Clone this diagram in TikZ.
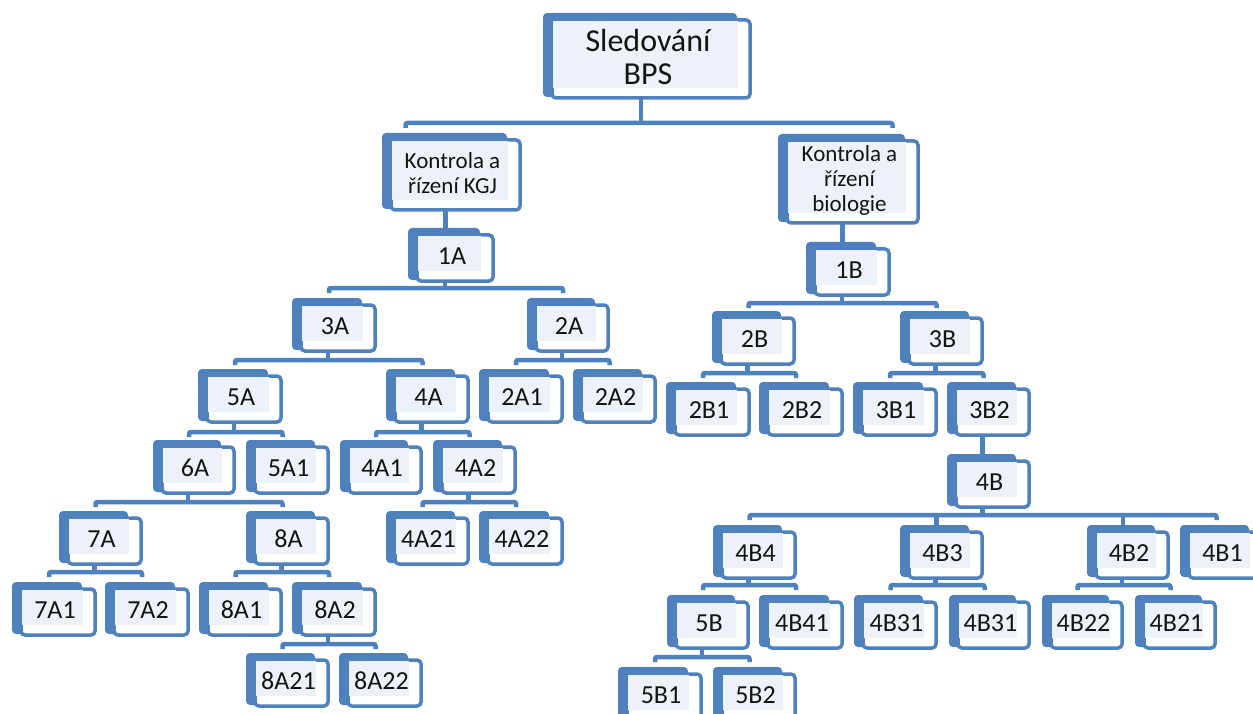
\documentclass[tikz,border=0pt]{standalone}
\usepackage{fontspec}
\setmainfont{Carlito}
\usetikzlibrary{calc}
\definecolor{bblue}{HTML}{4F81BD}
\definecolor{bfill}{HTML}{EDF2F9}
\tikzset{
 backbox/.style={fill=bblue, rounded corners=4pt},
 frontbox/.style={draw=bblue, fill=white, line width=3.5pt, rounded corners=4pt, inner sep=0pt, outer sep=0pt},
 innerbox/.style={fill=bfill},
 lbl/.style={font=\fontsize{26}{28}\selectfont, align=center, inner sep=0pt, text=black!92},
 conn/.style={draw=bblue, line width=4.5pt}
}
% \bx[label options]{name}{L}{T}{R}{B}{text}
\newcommand\bx[7][]{%
 \path[backbox] (#3,#4) rectangle (#5-15,#6-3);
 \node[frontbox, minimum width={#5-#3-11}, minimum height={#6-#4-9}] (#2) at ({(#3+#5+7)/2},{(#4+#6+5)/2}) {};
 \path[innerbox] (#3+10,#4+8) rectangle (#5-14,#6-12);
 \node[lbl,#1] (#2t) at ({(#3+#5+1)/2},{(#4+#6+1)/2}) {#7};
}
% \tree{parent}{bar y}{first child}{last child}
\newcommand\tree[4]{%
 \coordinate (barY) at (0,#2);
 \coordinate (pc) at ($(#1.south)+(-10,0)$);
 \coordinate (lc) at ($(#3.north)+(-9,0)$);
 \coordinate (rc) at ($(#4.north)+(-9,0)$);
 \draw[conn] (pc) -- (pc |- barY);
 \draw[conn, rounded corners=2pt] ($(lc |- barY)+(0,5)$) -- (lc |- barY) -- (rc |- barY) -- ($(rc |- barY)+(0,5)$);
}
\newcommand\single[2]{%
 \coordinate (pc) at ($(#1.south)+(-10,0)$);
 \draw[conn] (pc) -- (pc |- #2.north);
}
\begin{document}
\begin{tikzpicture}[x=1pt,y=-1pt]
\useasboundingbox (0,0) rectangle (1253,714);
\fill[white] (0,0) rectangle (1253,714);
% boxes
\bx[font=\fontsize{32}{33}\selectfont]{root}{543}{13}{752}{100}{Sledování\\BPS}
\bx[font=\fontsize{23}{25}\selectfont]{kgj}{382}{133}{522}{212}{Kontrola a\\řízení KGJ}
\bx[font=\fontsize{23}{25}\selectfont]{bio}{778}{134}{920}{225}{Kontrola a\\řízení\\biologie}
\bx{n1A}{408}{228}{495}{283}{1A}
\bx{n1B}{806}{242}{891}{297}{1B}
\bx{n3A}{292}{298}{377}{353}{3A}
\bx{n2A}{527}{298}{610}{353}{2A}
\bx{n2B}{712}{311}{796}{366}{2B}
\bx{n3B}{900}{311}{984}{366}{3B}
\bx{n5A}{198}{369}{283}{424}{5A}
\bx{n4A}{386}{369}{470}{424}{4A}
\bx{n2A1}{479}{369}{564}{424}{2A1}
\bx{n2A2}{573}{369}{657}{424}{2A2}
\bx{n2B1}{666}{382}{751}{437}{2B1}
\bx{n2B2}{759}{382}{844}{437}{2B2}
\bx{n3B1}{853}{382}{938}{437}{3B1}
\bx{n3B2}{947}{382}{1031}{437}{3B2}
\bx{n6A}{153}{440}{236}{495}{6A}
\bx{n5A1}{246}{440}{330}{495}{5A1}
\bx{n4A1}{340}{440}{423}{495}{4A1}
\bx{n4A2}{433}{440}{517}{495}{4A2}
\bx{n4B}{947}{454}{1031}{509}{4B}
\bx{n7A}{59}{511}{143}{566}{7A}
\bx{n8A}{246}{511}{330}{566}{8A}
\bx{n4A21}{386}{511}{470}{566}{4A21}
\bx{n4A22}{479}{511}{564}{566}{4A22}
\bx{n4B4}{713}{525}{797}{580}{4B4}
\bx{n4B3}{900}{525}{984}{580}{4B3}
\bx{n4B2}{1087}{525}{1170}{580}{4B2}
\bx{n4B1}{1180}{525}{1264}{580}{4B1}
\bx{n7A1}{12}{582}{97}{637}{7A1}
\bx{n7A2}{105}{582}{190}{637}{7A2}
\bx{n8A1}{199}{582}{283}{637}{8A1}
\bx{n8A2}{292}{582}{377}{637}{8A2}
\bx{n5B}{667}{595}{750}{650}{5B}
\bx{n4B41}{759}{595}{844}{650}{4B41}
\bx{n4B31}{854}{595}{938}{650}{4B31}
\bx{n4B31b}{949}{595}{1031}{650}{4B31}
\bx{n4B22}{1042}{595}{1124}{650}{4B22}
\bx{n4B21}{1135}{595}{1217}{650}{4B21}
\bx{n8A21}{246}{653}{330}{708}{8A21}
\bx{n8A22}{339}{653}{423}{708}{8A22}
\bx{n5B1}{618}{667}{703}{722}{5B1}
\bx{n5B2}{713}{667}{797}{722}{5B2}
% connectors
\coordinate (barY) at (0,123);
\coordinate (pc) at ($(root.south)+(-10,0)$);
\coordinate (lc) at ($(kgj.north)+(-50,0)$);
\coordinate (rc) at ($(bio.north)+(40,0)$);
\draw[conn] (pc) -- (pc |- barY);
\draw[conn, rounded corners=2pt] ($(lc |- barY)+(0,5)$) -- (lc |- barY) -- (rc |- barY) -- ($(rc |- barY)+(0,5)$);
\single{kgj}{n1A}
\single{bio}{n1B}
\tree{n1A}{288}{n3A}{n2A}
\tree{n1B}{303}{n2B}{n3B}
\tree{n3A}{360}{n5A}{n4A}
\tree{n2A}{360}{n2A1}{n2A2}
\tree{n2B}{373}{n2B1}{n2B2}
\tree{n3B}{373}{n3B1}{n3B2}
\tree{n5A}{432}{n6A}{n5A1}
\tree{n4A}{432}{n4A1}{n4A2}
\single{n3B2}{n4B}
\tree{n6A}{502}{n7A}{n8A}
\tree{n4A2}{502}{n4A21}{n4A22}
\tree{n4B}{515}{n4B4}{n4B1}
\draw[conn] ($(n4B3.north)+(-9,0)$) -- ($(n4B3.north |- barY)+(-9,0)$);
\draw[conn] ($(n4B2.north)+(-9,0)$) -- ($(n4B2.north |- barY)+(-9,0)$);
\tree{n7A}{572}{n7A1}{n7A2}
\tree{n8A}{572}{n8A1}{n8A2}
\tree{n4B4}{585}{n5B}{n4B41}
\tree{n4B3}{585}{n4B31}{n4B31b}
\tree{n4B2}{585}{n4B22}{n4B21}
\tree{n8A2}{644}{n8A21}{n8A22}
\tree{n5B}{657}{n5B1}{n5B2}
\end{tikzpicture}
\end{document}
